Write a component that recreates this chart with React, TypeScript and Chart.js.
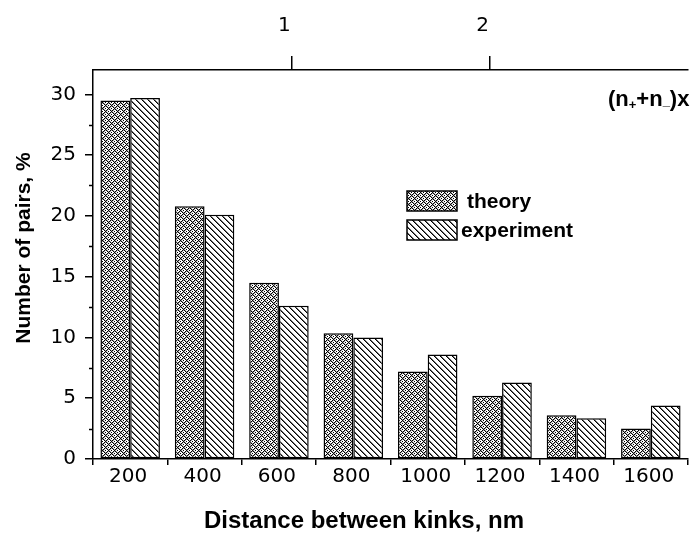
import { useEffect, useRef } from 'react';
import { Chart, registerables } from 'chart.js';

Chart.register(...registerables);

const categories = ['200', '400', '600', '800', '1000', '1200', '1400', '1600'];
const theory = [29.5, 20.8, 14.5, 10.35, 7.2, 5.2, 3.6, 2.5];
const experiment = [29.7, 20.1, 12.6, 10.0, 8.6, 6.3, 3.35, 4.4];
const yMajorTicks = [0, 5, 10, 15, 20, 25, 30];
const yMinorTicks = [2.5, 7.5, 12.5, 17.5, 22.5, 27.5];
const topTicks = [1, 2];
const seriesNames = ['theory', 'experiment'];
const yTitle = 'Number of pairs, %';
const xTitle = 'Distance between kinks, nm';

function makePattern(ctx: CanvasRenderingContext2D, kind: 'cross' | 'diag') {
  const size = 6;
  const c = document.createElement('canvas');
  c.width = size;
  c.height = size;
  const g = c.getContext('2d')!;
  const img = g.createImageData(size, size);
  for (let y = 0; y < size; y++) {
    for (let x = 0; x < size; x++) {
      let v = 255;
      if (kind === 'cross') {
        const a = (x + y) % 6;
        const b = (x - y + 6) % 6;
        if (a === 0 || b === 0) v = 0;
        else if (a === 1 || b === 1) v = 170;
        if ((x === 3 && y === 0) || (x === 0 && y === 3)) v = 0;
      } else {
        const d = (x - y + 6) % 6;
        if (d === 0) v = 0;
        else if (d === 1) v = 110;
      }
      const i = (y * size + x) * 4;
      img.data[i] = v;
      img.data[i + 1] = v;
      img.data[i + 2] = v;
      img.data[i + 3] = 255;
    }
  }
  g.putImageData(img, 0, 0);
  return ctx.createPattern(c, 'repeat')!;
}

export default function App() {
  const ref = useRef<HTMLCanvasElement>(null);

  useEffect(() => {
    const canvas = ref.current!;
    const ctx = canvas.getContext('2d')!;
    const pTheory = makePattern(ctx, 'cross');
    const pExp = makePattern(ctx, 'diag');
    const patterns = [pTheory, pExp];
    Chart.defaults.color = '#000';

    const tickFont = { family: 'DejaVu Sans', size: 20, weight: 'normal' as const };

    const decor = {
      id: 'decor',
      afterDraw(chart: any) {
        const c = chart.ctx as CanvasRenderingContext2D;
        const ys = chart.scales.y;
        const area = chart.chartArea;
        c.save();
        // minor ticks on y axis
        c.strokeStyle = '#000';
        c.lineWidth = 1.5;
        for (const v of yMinorTicks) {
          const py = Math.round(ys.getPixelForValue(v)) + 0.5;
          c.beginPath();
          c.moveTo(area.left - 4, py);
          c.lineTo(area.left, py);
          c.stroke();
        }
        // axis titles
        c.fillStyle = '#000';
        c.font = 'bold 21px "Liberation Sans", Arial, sans-serif';
        c.textAlign = 'center';
        c.textBaseline = 'alphabetic';
        c.save();
        c.translate(30, 248);
        c.rotate(-Math.PI / 2);
        c.fillText(yTitle, 0, 0);
        c.restore();
        c.font = 'bold 24px "Liberation Sans", Arial, sans-serif';
        c.fillText(xTitle, 364, 528);

        // top axis label (n+ + n-)x
        c.textAlign = 'left';
        let x = 608;
        const base = 106;
        const big = 'bold 22px "Liberation Sans", Arial, sans-serif';
        const small = 'bold 13px "Liberation Sans", Arial, sans-serif';
        const put = (t: string, font: string, dy: number) => {
          c.font = font;
          c.fillText(t, x, base + dy);
          x += c.measureText(t).width;
        };
        put('(n', big, 0);
        put('+', small, 3);
        put('+n', big, 0);
        put('_', small, -1);
        put(')x', big, 0);

        // legend
        const boxes = [
          { y: 191, h: 20 },
          { y: 220, h: 20 },
        ];
        const textX = [467, 461];
        c.font = 'bold 21px "Liberation Sans", Arial, sans-serif';
        c.textBaseline = 'middle';
        boxes.forEach((b, i) => {
          c.fillStyle = patterns[i];
          c.fillRect(407, b.y, 50, b.h);
          c.strokeStyle = '#000';
          c.lineWidth = 1.5;
          c.strokeRect(407, b.y, 50, b.h);
          c.fillStyle = '#000';
          c.fillText(seriesNames[i], textX[i], b.y + b.h / 2 + 1);
        });
        c.restore();
      },
    };

    const chart = new Chart(canvas, {
      type: 'bar',
      data: {
        labels: categories,
        datasets: [
          {
            label: seriesNames[0],
            data: theory,
            backgroundColor: pTheory,
            borderColor: '#000',
            borderWidth: 1.5,
            borderSkipped: false,
            barPercentage: 1,
            categoryPercentage: 0.8,
            xAxisID: 'x',
            yAxisID: 'y',
          },
          {
            label: seriesNames[1],
            data: experiment,
            backgroundColor: pExp,
            borderColor: '#000',
            borderWidth: 1.5,
            borderSkipped: false,
            barPercentage: 1,
            categoryPercentage: 0.8,
            xAxisID: 'x',
            yAxisID: 'y',
          },
        ],
      },
      options: {
        responsive: false,
        animation: false,
        layout: { padding: { left: 0, right: 10, top: 0, bottom: 0 } },
        plugins: {
          legend: { display: false },
          tooltip: { enabled: false },
          title: { display: false },
        },
        scales: {
          x: {
            type: 'category',
            position: 'bottom',
            grid: {
              offset: true,
              drawOnChartArea: false,
              tickLength: 6,
              color: '#000',
              lineWidth: 1.5,
            },
            border: { display: true, color: '#000', width: 1.5 },
            ticks: { font: tickFont, color: '#000', padding: 0, labelOffset: -2, maxRotation: 0 },
            afterFit: (s: any) => {
              s.height = 74;
            },
          },
          x2: {
            type: 'linear',
            position: 'top',
            min: 0,
            max: 3,
            offset: false,
            afterBuildTicks: (s: any) => {
              s.ticks = topTicks.map((v) => ({ value: v }));
            },
            grid: {
              offset: false,
              drawOnChartArea: false,
              tickLength: 14,
              color: '#000',
              lineWidth: 1.5,
            },
            border: { display: true, color: '#000', width: 1.5 },
            ticks: { font: tickFont, color: '#000', padding: 18, labelOffset: -7, maxRotation: 0 },
            afterFit: (s: any) => {
              s.height = 70;
            },
          },
          y: {
            type: 'linear',
            position: 'left',
            min: 0,
            max: 32,
            afterBuildTicks: (s: any) => {
              s.ticks = yMajorTicks.map((v) => ({ value: v }));
            },
            grid: {
              drawOnChartArea: false,
              tickLength: 8,
              color: '#000',
              lineWidth: 1.5,
            },
            border: { display: true, color: '#000', width: 1.5 },
            ticks: { font: tickFont, color: '#000', padding: 9 },
            afterFit: (s: any) => {
              s.width = 93;
            },
          },
        },
      },
      plugins: [decor],
    } as any);

    return () => chart.destroy();
  }, []);

  return (
    <div style={{ position: 'absolute', left: 0, top: 0, width: 698, height: 533, background: '#fff' }}>
      <canvas ref={ref} width={698} height={533} style={{ display: 'block' }} />
    </div>
  );
}
